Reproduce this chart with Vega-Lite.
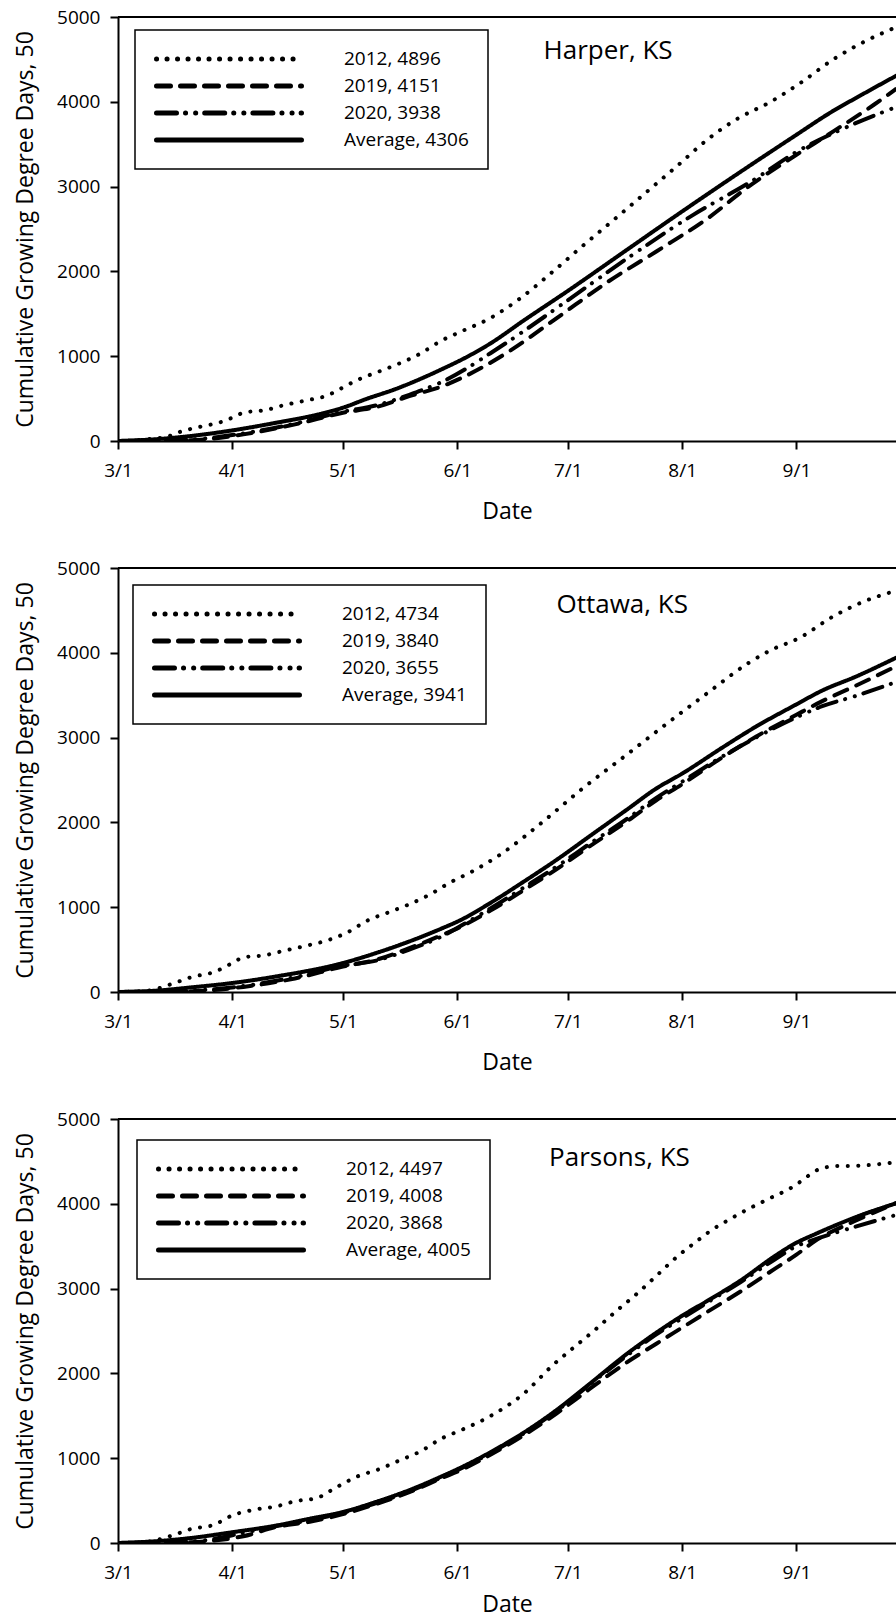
{
  "$schema": "https://vega.github.io/schema/vega-lite/v6.json",
  "background": "white",
  "padding": {"left": 14, "top": 8, "right": 0, "bottom": 0},
  "config": {
    "font": "Open Sans",
    "view": {"stroke": null},
    "axis": {
      "labelFont": "Open Sans", "titleFont": "Open Sans",
      "labelColor": "black", "titleColor": "black",
      "domainColor": "black", "tickColor": "black",
      "domainWidth": 2, "tickWidth": 2, "tickSize": 8,
      "labelFontSize": 19, "titleFontSize": 23, "titleFontWeight": "normal",
      "grid": false
    }
  },
  "datasets": {
    "harper": [
      {"series": "2012, 4896", "date": "2021/03/01", "gdd": 0},
      {"series": "2012, 4896", "date": "2021/03/09", "gdd": 20},
      {"series": "2012, 4896", "date": "2021/03/15", "gdd": 60},
      {"series": "2012, 4896", "date": "2021/03/18", "gdd": 110},
      {"series": "2012, 4896", "date": "2021/03/23", "gdd": 165},
      {"series": "2012, 4896", "date": "2021/03/29", "gdd": 225},
      {"series": "2012, 4896", "date": "2021/04/01", "gdd": 275},
      {"series": "2012, 4896", "date": "2021/04/04", "gdd": 333},
      {"series": "2012, 4896", "date": "2021/04/10", "gdd": 365},
      {"series": "2012, 4896", "date": "2021/04/15", "gdd": 423},
      {"series": "2012, 4896", "date": "2021/04/21", "gdd": 478},
      {"series": "2012, 4896", "date": "2021/04/27", "gdd": 541},
      {"series": "2012, 4896", "date": "2021/04/30", "gdd": 608},
      {"series": "2012, 4896", "date": "2021/05/05", "gdd": 721},
      {"series": "2012, 4896", "date": "2021/05/11", "gdd": 823},
      {"series": "2012, 4896", "date": "2021/05/16", "gdd": 909},
      {"series": "2012, 4896", "date": "2021/05/22", "gdd": 1031},
      {"series": "2012, 4896", "date": "2021/05/28", "gdd": 1190},
      {"series": "2012, 4896", "date": "2021/06/02", "gdd": 1290},
      {"series": "2012, 4896", "date": "2021/06/10", "gdd": 1450},
      {"series": "2012, 4896", "date": "2021/06/18", "gdd": 1680},
      {"series": "2012, 4896", "date": "2021/06/27", "gdd": 2000},
      {"series": "2012, 4896", "date": "2021/07/05", "gdd": 2300},
      {"series": "2012, 4896", "date": "2021/07/14", "gdd": 2628},
      {"series": "2012, 4896", "date": "2021/07/22", "gdd": 2923},
      {"series": "2012, 4896", "date": "2021/07/31", "gdd": 3257},
      {"series": "2012, 4896", "date": "2021/08/08", "gdd": 3560},
      {"series": "2012, 4896", "date": "2021/08/16", "gdd": 3800},
      {"series": "2012, 4896", "date": "2021/08/25", "gdd": 4000},
      {"series": "2012, 4896", "date": "2021/09/02", "gdd": 4220},
      {"series": "2012, 4896", "date": "2021/09/11", "gdd": 4500},
      {"series": "2012, 4896", "date": "2021/09/19", "gdd": 4700},
      {"series": "2012, 4896", "date": "2021/09/28", "gdd": 4880},
      {"series": "2019, 4151", "date": "2021/03/01", "gdd": 0},
      {"series": "2019, 4151", "date": "2021/03/16", "gdd": 5},
      {"series": "2019, 4151", "date": "2021/03/26", "gdd": 25},
      {"series": "2019, 4151", "date": "2021/04/04", "gdd": 78},
      {"series": "2019, 4151", "date": "2021/04/18", "gdd": 196},
      {"series": "2019, 4151", "date": "2021/05/01", "gdd": 333},
      {"series": "2019, 4151", "date": "2021/05/10", "gdd": 400},
      {"series": "2019, 4151", "date": "2021/05/19", "gdd": 529},
      {"series": "2019, 4151", "date": "2021/05/28", "gdd": 647},
      {"series": "2019, 4151", "date": "2021/06/02", "gdd": 740},
      {"series": "2019, 4151", "date": "2021/06/15", "gdd": 1055},
      {"series": "2019, 4151", "date": "2021/06/28", "gdd": 1450},
      {"series": "2019, 4151", "date": "2021/07/12", "gdd": 1881},
      {"series": "2019, 4151", "date": "2021/07/25", "gdd": 2235},
      {"series": "2019, 4151", "date": "2021/08/08", "gdd": 2628},
      {"series": "2019, 4151", "date": "2021/08/19", "gdd": 3000},
      {"series": "2019, 4151", "date": "2021/09/01", "gdd": 3375},
      {"series": "2019, 4151", "date": "2021/09/11", "gdd": 3651},
      {"series": "2019, 4151", "date": "2021/09/22", "gdd": 3965},
      {"series": "2019, 4151", "date": "2021/09/28", "gdd": 4151},
      {"series": "2020, 3938", "date": "2021/03/01", "gdd": 0},
      {"series": "2020, 3938", "date": "2021/03/16", "gdd": 10},
      {"series": "2020, 3938", "date": "2021/03/26", "gdd": 35},
      {"series": "2020, 3938", "date": "2021/04/04", "gdd": 90},
      {"series": "2020, 3938", "date": "2021/04/18", "gdd": 205},
      {"series": "2020, 3938", "date": "2021/05/01", "gdd": 345},
      {"series": "2020, 3938", "date": "2021/05/10", "gdd": 420},
      {"series": "2020, 3938", "date": "2021/05/19", "gdd": 545},
      {"series": "2020, 3938", "date": "2021/05/28", "gdd": 700},
      {"series": "2020, 3938", "date": "2021/06/13", "gdd": 1120},
      {"series": "2020, 3938", "date": "2021/07/01", "gdd": 1660},
      {"series": "2020, 3938", "date": "2021/07/17", "gdd": 2150},
      {"series": "2020, 3938", "date": "2021/08/04", "gdd": 2667},
      {"series": "2020, 3938", "date": "2021/08/19", "gdd": 3041},
      {"series": "2020, 3938", "date": "2021/09/02", "gdd": 3434},
      {"series": "2020, 3938", "date": "2021/09/13", "gdd": 3670},
      {"series": "2020, 3938", "date": "2021/09/28", "gdd": 3938},
      {"series": "Average, 4306", "date": "2021/03/01", "gdd": 0},
      {"series": "Average, 4306", "date": "2021/03/11", "gdd": 20},
      {"series": "Average, 4306", "date": "2021/03/21", "gdd": 60},
      {"series": "Average, 4306", "date": "2021/04/01", "gdd": 125},
      {"series": "Average, 4306", "date": "2021/04/13", "gdd": 216},
      {"series": "Average, 4306", "date": "2021/04/25", "gdd": 320},
      {"series": "Average, 4306", "date": "2021/05/01", "gdd": 392},
      {"series": "Average, 4306", "date": "2021/05/07", "gdd": 490},
      {"series": "Average, 4306", "date": "2021/05/15", "gdd": 608},
      {"series": "Average, 4306", "date": "2021/05/24", "gdd": 770},
      {"series": "Average, 4306", "date": "2021/05/28", "gdd": 850},
      {"series": "Average, 4306", "date": "2021/06/04", "gdd": 1000},
      {"series": "Average, 4306", "date": "2021/06/10", "gdd": 1150},
      {"series": "Average, 4306", "date": "2021/06/19", "gdd": 1420},
      {"series": "Average, 4306", "date": "2021/07/01", "gdd": 1770},
      {"series": "Average, 4306", "date": "2021/07/17", "gdd": 2254},
      {"series": "Average, 4306", "date": "2021/08/01", "gdd": 2707},
      {"series": "Average, 4306", "date": "2021/08/17", "gdd": 3179},
      {"series": "Average, 4306", "date": "2021/09/01", "gdd": 3611},
      {"series": "Average, 4306", "date": "2021/09/10", "gdd": 3867},
      {"series": "Average, 4306", "date": "2021/09/19", "gdd": 4090},
      {"series": "Average, 4306", "date": "2021/09/28", "gdd": 4306}
    ],
    "ottawa": [
      {"series": "2012, 4734", "date": "2021/03/01", "gdd": 0},
      {"series": "2012, 4734", "date": "2021/03/09", "gdd": 15},
      {"series": "2012, 4734", "date": "2021/03/15", "gdd": 86},
      {"series": "2012, 4734", "date": "2021/03/21", "gdd": 176},
      {"series": "2012, 4734", "date": "2021/03/27", "gdd": 235},
      {"series": "2012, 4734", "date": "2021/04/01", "gdd": 341},
      {"series": "2012, 4734", "date": "2021/04/04", "gdd": 408},
      {"series": "2012, 4734", "date": "2021/04/10", "gdd": 435},
      {"series": "2012, 4734", "date": "2021/04/15", "gdd": 486},
      {"series": "2012, 4734", "date": "2021/04/21", "gdd": 545},
      {"series": "2012, 4734", "date": "2021/04/27", "gdd": 612},
      {"series": "2012, 4734", "date": "2021/05/02", "gdd": 698},
      {"series": "2012, 4734", "date": "2021/05/08", "gdd": 850},
      {"series": "2012, 4734", "date": "2021/05/13", "gdd": 933},
      {"series": "2012, 4734", "date": "2021/05/19", "gdd": 1035},
      {"series": "2012, 4734", "date": "2021/05/25", "gdd": 1160},
      {"series": "2012, 4734", "date": "2021/05/30", "gdd": 1290},
      {"series": "2012, 4734", "date": "2021/06/05", "gdd": 1420},
      {"series": "2012, 4734", "date": "2021/06/13", "gdd": 1630},
      {"series": "2012, 4734", "date": "2021/06/24", "gdd": 2000},
      {"series": "2012, 4734", "date": "2021/07/05", "gdd": 2400},
      {"series": "2012, 4734", "date": "2021/07/17", "gdd": 2800},
      {"series": "2012, 4734", "date": "2021/07/28", "gdd": 3170},
      {"series": "2012, 4734", "date": "2021/08/08", "gdd": 3530},
      {"series": "2012, 4734", "date": "2021/08/19", "gdd": 3880},
      {"series": "2012, 4734", "date": "2021/08/25", "gdd": 4030},
      {"series": "2012, 4734", "date": "2021/09/02", "gdd": 4180},
      {"series": "2012, 4734", "date": "2021/09/11", "gdd": 4430},
      {"series": "2012, 4734", "date": "2021/09/19", "gdd": 4600},
      {"series": "2012, 4734", "date": "2021/09/28", "gdd": 4732},
      {"series": "2019, 3840", "date": "2021/03/01", "gdd": 0},
      {"series": "2019, 3840", "date": "2021/03/16", "gdd": 3},
      {"series": "2019, 3840", "date": "2021/03/26", "gdd": 20},
      {"series": "2019, 3840", "date": "2021/04/04", "gdd": 60},
      {"series": "2019, 3840", "date": "2021/04/18", "gdd": 160},
      {"series": "2019, 3840", "date": "2021/05/01", "gdd": 300},
      {"series": "2019, 3840", "date": "2021/05/10", "gdd": 380},
      {"series": "2019, 3840", "date": "2021/05/19", "gdd": 517},
      {"series": "2019, 3840", "date": "2021/05/28", "gdd": 674},
      {"series": "2019, 3840", "date": "2021/06/02", "gdd": 770},
      {"series": "2019, 3840", "date": "2021/06/10", "gdd": 960},
      {"series": "2019, 3840", "date": "2021/06/19", "gdd": 1200},
      {"series": "2019, 3840", "date": "2021/06/28", "gdd": 1450},
      {"series": "2019, 3840", "date": "2021/07/07", "gdd": 1720},
      {"series": "2019, 3840", "date": "2021/07/17", "gdd": 2010},
      {"series": "2019, 3840", "date": "2021/07/25", "gdd": 2260},
      {"series": "2019, 3840", "date": "2021/08/01", "gdd": 2450},
      {"series": "2019, 3840", "date": "2021/08/12", "gdd": 2770},
      {"series": "2019, 3840", "date": "2021/08/21", "gdd": 3010},
      {"series": "2019, 3840", "date": "2021/09/01", "gdd": 3270},
      {"series": "2019, 3840", "date": "2021/09/08", "gdd": 3430},
      {"series": "2019, 3840", "date": "2021/09/17", "gdd": 3610},
      {"series": "2019, 3840", "date": "2021/09/28", "gdd": 3840},
      {"series": "2020, 3655", "date": "2021/03/01", "gdd": 0},
      {"series": "2020, 3655", "date": "2021/03/16", "gdd": 8},
      {"series": "2020, 3655", "date": "2021/03/26", "gdd": 30},
      {"series": "2020, 3655", "date": "2021/04/04", "gdd": 70},
      {"series": "2020, 3655", "date": "2021/04/18", "gdd": 175},
      {"series": "2020, 3655", "date": "2021/05/01", "gdd": 310},
      {"series": "2020, 3655", "date": "2021/05/10", "gdd": 370},
      {"series": "2020, 3655", "date": "2021/05/19", "gdd": 500},
      {"series": "2020, 3655", "date": "2021/05/28", "gdd": 660},
      {"series": "2020, 3655", "date": "2021/06/02", "gdd": 780},
      {"series": "2020, 3655", "date": "2021/06/10", "gdd": 985},
      {"series": "2020, 3655", "date": "2021/06/19", "gdd": 1230},
      {"series": "2020, 3655", "date": "2021/06/28", "gdd": 1480},
      {"series": "2020, 3655", "date": "2021/07/07", "gdd": 1750},
      {"series": "2020, 3655", "date": "2021/07/17", "gdd": 2040},
      {"series": "2020, 3655", "date": "2021/07/25", "gdd": 2290},
      {"series": "2020, 3655", "date": "2021/08/01", "gdd": 2480},
      {"series": "2020, 3655", "date": "2021/08/12", "gdd": 2780},
      {"series": "2020, 3655", "date": "2021/08/21", "gdd": 3000},
      {"series": "2020, 3655", "date": "2021/09/01", "gdd": 3240},
      {"series": "2020, 3655", "date": "2021/09/08", "gdd": 3370},
      {"series": "2020, 3655", "date": "2021/09/17", "gdd": 3490},
      {"series": "2020, 3655", "date": "2021/09/28", "gdd": 3655},
      {"series": "Average, 3941", "date": "2021/03/01", "gdd": 0},
      {"series": "Average, 3941", "date": "2021/03/11", "gdd": 15},
      {"series": "Average, 3941", "date": "2021/03/21", "gdd": 55},
      {"series": "Average, 3941", "date": "2021/04/01", "gdd": 106},
      {"series": "Average, 3941", "date": "2021/04/13", "gdd": 184},
      {"series": "Average, 3941", "date": "2021/05/01", "gdd": 341},
      {"series": "Average, 3941", "date": "2021/05/10", "gdd": 459},
      {"series": "Average, 3941", "date": "2021/05/19", "gdd": 596},
      {"series": "Average, 3941", "date": "2021/05/28", "gdd": 753},
      {"series": "Average, 3941", "date": "2021/06/02", "gdd": 850},
      {"series": "Average, 3941", "date": "2021/06/10", "gdd": 1050},
      {"series": "Average, 3941", "date": "2021/06/19", "gdd": 1300},
      {"series": "Average, 3941", "date": "2021/06/28", "gdd": 1560},
      {"series": "Average, 3941", "date": "2021/07/07", "gdd": 1840},
      {"series": "Average, 3941", "date": "2021/07/17", "gdd": 2150},
      {"series": "Average, 3941", "date": "2021/07/25", "gdd": 2400},
      {"series": "Average, 3941", "date": "2021/08/01", "gdd": 2575},
      {"series": "Average, 3941", "date": "2021/08/12", "gdd": 2885},
      {"series": "Average, 3941", "date": "2021/08/21", "gdd": 3129},
      {"series": "Average, 3941", "date": "2021/09/01", "gdd": 3392},
      {"series": "Average, 3941", "date": "2021/09/08", "gdd": 3555},
      {"series": "Average, 3941", "date": "2021/09/17", "gdd": 3717},
      {"series": "Average, 3941", "date": "2021/09/28", "gdd": 3941}
    ],
    "parsons": [
      {"series": "2012, 4497", "date": "2021/03/01", "gdd": 0},
      {"series": "2012, 4497", "date": "2021/03/09", "gdd": 15},
      {"series": "2012, 4497", "date": "2021/03/15", "gdd": 79},
      {"series": "2012, 4497", "date": "2021/03/21", "gdd": 167},
      {"series": "2012, 4497", "date": "2021/03/27", "gdd": 214},
      {"series": "2012, 4497", "date": "2021/04/01", "gdd": 326},
      {"series": "2012, 4497", "date": "2021/04/07", "gdd": 393},
      {"series": "2012, 4497", "date": "2021/04/13", "gdd": 433},
      {"series": "2012, 4497", "date": "2021/04/18", "gdd": 492},
      {"series": "2012, 4497", "date": "2021/04/24", "gdd": 532},
      {"series": "2012, 4497", "date": "2021/04/29", "gdd": 651},
      {"series": "2012, 4497", "date": "2021/05/05", "gdd": 786},
      {"series": "2012, 4497", "date": "2021/05/11", "gdd": 873},
      {"series": "2012, 4497", "date": "2021/05/16", "gdd": 968},
      {"series": "2012, 4497", "date": "2021/05/22", "gdd": 1080},
      {"series": "2012, 4497", "date": "2021/05/28", "gdd": 1238},
      {"series": "2012, 4497", "date": "2021/06/02", "gdd": 1330},
      {"series": "2012, 4497", "date": "2021/06/10", "gdd": 1497},
      {"series": "2012, 4497", "date": "2021/06/19", "gdd": 1760},
      {"series": "2012, 4497", "date": "2021/06/27", "gdd": 2100},
      {"series": "2012, 4497", "date": "2021/07/03", "gdd": 2320},
      {"series": "2012, 4497", "date": "2021/07/08", "gdd": 2500},
      {"series": "2012, 4497", "date": "2021/07/14", "gdd": 2730},
      {"series": "2012, 4497", "date": "2021/07/20", "gdd": 2950},
      {"series": "2012, 4497", "date": "2021/07/25", "gdd": 3150},
      {"series": "2012, 4497", "date": "2021/07/31", "gdd": 3390},
      {"series": "2012, 4497", "date": "2021/08/05", "gdd": 3560},
      {"series": "2012, 4497", "date": "2021/08/08", "gdd": 3660},
      {"series": "2012, 4497", "date": "2021/08/14", "gdd": 3820},
      {"series": "2012, 4497", "date": "2021/08/19", "gdd": 3940},
      {"series": "2012, 4497", "date": "2021/08/25", "gdd": 4070},
      {"series": "2012, 4497", "date": "2021/08/31", "gdd": 4200},
      {"series": "2012, 4497", "date": "2021/09/03", "gdd": 4290},
      {"series": "2012, 4497", "date": "2021/09/06", "gdd": 4385},
      {"series": "2012, 4497", "date": "2021/09/09", "gdd": 4430},
      {"series": "2012, 4497", "date": "2021/09/12", "gdd": 4445},
      {"series": "2012, 4497", "date": "2021/09/17", "gdd": 4448},
      {"series": "2012, 4497", "date": "2021/09/22", "gdd": 4462},
      {"series": "2012, 4497", "date": "2021/09/28", "gdd": 4490},
      {"series": "2019, 4008", "date": "2021/03/01", "gdd": 0},
      {"series": "2019, 4008", "date": "2021/03/16", "gdd": 5},
      {"series": "2019, 4008", "date": "2021/03/26", "gdd": 25},
      {"series": "2019, 4008", "date": "2021/04/04", "gdd": 80},
      {"series": "2019, 4008", "date": "2021/04/13", "gdd": 190},
      {"series": "2019, 4008", "date": "2021/04/22", "gdd": 250},
      {"series": "2019, 4008", "date": "2021/05/01", "gdd": 340},
      {"series": "2019, 4008", "date": "2021/05/10", "gdd": 460},
      {"series": "2019, 4008", "date": "2021/05/19", "gdd": 600},
      {"series": "2019, 4008", "date": "2021/05/28", "gdd": 770},
      {"series": "2019, 4008", "date": "2021/06/02", "gdd": 860},
      {"series": "2019, 4008", "date": "2021/06/10", "gdd": 1040},
      {"series": "2019, 4008", "date": "2021/06/19", "gdd": 1270},
      {"series": "2019, 4008", "date": "2021/06/28", "gdd": 1530},
      {"series": "2019, 4008", "date": "2021/07/07", "gdd": 1820},
      {"series": "2019, 4008", "date": "2021/07/17", "gdd": 2130},
      {"series": "2019, 4008", "date": "2021/07/25", "gdd": 2350},
      {"series": "2019, 4008", "date": "2021/08/01", "gdd": 2540},
      {"series": "2019, 4008", "date": "2021/08/08", "gdd": 2730},
      {"series": "2019, 4008", "date": "2021/08/17", "gdd": 2970},
      {"series": "2019, 4008", "date": "2021/08/26", "gdd": 3230},
      {"series": "2019, 4008", "date": "2021/09/01", "gdd": 3400},
      {"series": "2019, 4008", "date": "2021/09/06", "gdd": 3560},
      {"series": "2019, 4008", "date": "2021/09/17", "gdd": 3800},
      {"series": "2019, 4008", "date": "2021/09/28", "gdd": 4008},
      {"series": "2020, 3868", "date": "2021/03/01", "gdd": 0},
      {"series": "2020, 3868", "date": "2021/03/16", "gdd": 10},
      {"series": "2020, 3868", "date": "2021/03/26", "gdd": 40},
      {"series": "2020, 3868", "date": "2021/04/04", "gdd": 120},
      {"series": "2020, 3868", "date": "2021/04/13", "gdd": 200},
      {"series": "2020, 3868", "date": "2021/04/22", "gdd": 270},
      {"series": "2020, 3868", "date": "2021/05/01", "gdd": 355},
      {"series": "2020, 3868", "date": "2021/05/10", "gdd": 470},
      {"series": "2020, 3868", "date": "2021/05/19", "gdd": 610},
      {"series": "2020, 3868", "date": "2021/05/28", "gdd": 780},
      {"series": "2020, 3868", "date": "2021/06/02", "gdd": 880},
      {"series": "2020, 3868", "date": "2021/06/10", "gdd": 1060},
      {"series": "2020, 3868", "date": "2021/06/19", "gdd": 1290},
      {"series": "2020, 3868", "date": "2021/06/28", "gdd": 1560},
      {"series": "2020, 3868", "date": "2021/07/07", "gdd": 1870},
      {"series": "2020, 3868", "date": "2021/07/17", "gdd": 2210},
      {"series": "2020, 3868", "date": "2021/07/25", "gdd": 2460},
      {"series": "2020, 3868", "date": "2021/08/01", "gdd": 2650},
      {"series": "2020, 3868", "date": "2021/08/08", "gdd": 2840},
      {"series": "2020, 3868", "date": "2021/08/17", "gdd": 3080},
      {"series": "2020, 3868", "date": "2021/08/26", "gdd": 3340},
      {"series": "2020, 3868", "date": "2021/09/01", "gdd": 3500},
      {"series": "2020, 3868", "date": "2021/09/06", "gdd": 3580},
      {"series": "2020, 3868", "date": "2021/09/17", "gdd": 3730},
      {"series": "2020, 3868", "date": "2021/09/28", "gdd": 3868},
      {"series": "Average, 4005", "date": "2021/03/01", "gdd": 0},
      {"series": "Average, 4005", "date": "2021/03/11", "gdd": 20},
      {"series": "Average, 4005", "date": "2021/03/21", "gdd": 60},
      {"series": "Average, 4005", "date": "2021/04/01", "gdd": 127},
      {"series": "Average, 4005", "date": "2021/04/13", "gdd": 206},
      {"series": "Average, 4005", "date": "2021/04/22", "gdd": 286},
      {"series": "Average, 4005", "date": "2021/05/01", "gdd": 365},
      {"series": "Average, 4005", "date": "2021/05/10", "gdd": 484},
      {"series": "Average, 4005", "date": "2021/05/19", "gdd": 623},
      {"series": "Average, 4005", "date": "2021/05/28", "gdd": 790},
      {"series": "Average, 4005", "date": "2021/06/02", "gdd": 890},
      {"series": "Average, 4005", "date": "2021/06/10", "gdd": 1070},
      {"series": "Average, 4005", "date": "2021/06/19", "gdd": 1300},
      {"series": "Average, 4005", "date": "2021/06/28", "gdd": 1570},
      {"series": "Average, 4005", "date": "2021/07/07", "gdd": 1880},
      {"series": "Average, 4005", "date": "2021/07/17", "gdd": 2230},
      {"series": "Average, 4005", "date": "2021/07/25", "gdd": 2480},
      {"series": "Average, 4005", "date": "2021/08/01", "gdd": 2680},
      {"series": "Average, 4005", "date": "2021/08/08", "gdd": 2859},
      {"series": "Average, 4005", "date": "2021/08/17", "gdd": 3100},
      {"series": "Average, 4005", "date": "2021/08/26", "gdd": 3380},
      {"series": "Average, 4005", "date": "2021/09/01", "gdd": 3541},
      {"series": "Average, 4005", "date": "2021/09/06", "gdd": 3641},
      {"series": "Average, 4005", "date": "2021/09/17", "gdd": 3841},
      {"series": "Average, 4005", "date": "2021/09/28", "gdd": 4005}
    ]
  },
  "resolve": {"scale": {"strokeDash": "independent"}},
  "spacing": 36,
  "vconcat": [
    {
      "width": 778, "height": 424,
      "layer": [
        {"data": {"values": [{}]}, "mark": {"type": "rule", "color": "black", "strokeWidth": 2}, "encoding": {"y": {"datum": 5000, "type": "quantitative"}}},
        {"data": {"values": [{}]}, "mark": {"type": "text", "align": "left", "baseline": "middle", "fontSize": 26, "font": "Open Sans", "color": "black"},
         "encoding": {"x": {"datum": {"year": 2021, "month": 6, "date": 24, "hours": 10}, "type": "temporal"}, "y": {"datum": 4600, "type": "quantitative"}, "text": {"value": "Harper, KS"}}},
        {"data": {"name": "harper"},
         "mark": {"type": "line", "interpolate": "monotone", "strokeWidth": 4, "color": "black", "strokeCap": "round", "strokeJoin": "round", "clip": true},
         "encoding": {
           "x": {"field": "date", "type": "temporal", "scale": {"domain": [{"year": 2021, "month": 3, "date": 1}, {"year": 2021, "month": 9, "date": 28}]},
                 "axis": {"title": "Date", "format": "%-m/%-d", "labelFlush": false, "labelPadding": 12, "titlePadding": 20,
                          "values": [{"year": 2021, "month": 3, "date": 1}, {"year": 2021, "month": 4, "date": 1}, {"year": 2021, "month": 5, "date": 1}, {"year": 2021, "month": 6, "date": 1}, {"year": 2021, "month": 7, "date": 1}, {"year": 2021, "month": 8, "date": 1}, {"year": 2021, "month": 9, "date": 1}]}},
           "y": {"field": "gdd", "type": "quantitative", "scale": {"domain": [0, 5000], "nice": false},
                 "axis": {"title": "Cumulative Growing Degree Days, 50", "values": [0, 1000, 2000, 3000, 4000, 5000], "format": "d", "labelPadding": 10, "titlePadding": 19}},
           "strokeDash": {"field": "series", "type": "nominal",
                          "scale": {"range": [[0.1, 10.4], [14, 10], [20, 9, 0.1, 10, 0.1, 9], [1, 0]]},
                          "legend": {"title": null, "orient": "none", "legendX": 17, "legendY": 13, "symbolType": "stroke", "symbolSize": 21025, "symbolStrokeWidth": 5, "symbolStrokeColor": "black", "labelFontSize": 19, "labelFont": "Open Sans", "labelColor": "black", "labelOffset": 40, "rowPadding": 7, "padding": 19, "strokeColor": "black", "fillColor": "white", "clipHeight": 20, "labelLimit": 400,
                                     "encode": {"symbols": {"update": {"strokeCap": {"value": "round"}}}, "legend": {"update": {"strokeWidth": {"value": 1.5}}}}}}
         }}
      ]
    },
    {
      "width": 778, "height": 424,
      "layer": [
        {"data": {"values": [{}]}, "mark": {"type": "rule", "color": "black", "strokeWidth": 2}, "encoding": {"y": {"datum": 5000, "type": "quantitative"}}},
        {"data": {"values": [{}]}, "mark": {"type": "text", "align": "left", "baseline": "middle", "fontSize": 26, "font": "Open Sans", "color": "black"},
         "encoding": {"x": {"datum": {"year": 2021, "month": 6, "date": 27, "hours": 22}, "type": "temporal"}, "y": {"datum": 4560, "type": "quantitative"}, "text": {"value": "Ottawa, KS"}}},
        {"data": {"name": "ottawa"},
         "mark": {"type": "line", "interpolate": "monotone", "strokeWidth": 4, "color": "black", "strokeCap": "round", "strokeJoin": "round", "clip": true},
         "encoding": {
           "x": {"field": "date", "type": "temporal", "scale": {"domain": [{"year": 2021, "month": 3, "date": 1}, {"year": 2021, "month": 9, "date": 28}]},
                 "axis": {"title": "Date", "format": "%-m/%-d", "labelFlush": false, "labelPadding": 12, "titlePadding": 20,
                          "values": [{"year": 2021, "month": 3, "date": 1}, {"year": 2021, "month": 4, "date": 1}, {"year": 2021, "month": 5, "date": 1}, {"year": 2021, "month": 6, "date": 1}, {"year": 2021, "month": 7, "date": 1}, {"year": 2021, "month": 8, "date": 1}, {"year": 2021, "month": 9, "date": 1}]}},
           "y": {"field": "gdd", "type": "quantitative", "scale": {"domain": [0, 5000], "nice": false},
                 "axis": {"title": "Cumulative Growing Degree Days, 50", "values": [0, 1000, 2000, 3000, 4000, 5000], "format": "d", "labelPadding": 10, "titlePadding": 19}},
           "strokeDash": {"field": "series", "type": "nominal",
                          "scale": {"range": [[0.1, 10.4], [14, 10], [20, 9, 0.1, 10, 0.1, 9], [1, 0]]},
                          "legend": {"title": null, "orient": "none", "legendX": 15, "legendY": 17, "symbolType": "stroke", "symbolSize": 21025, "symbolStrokeWidth": 5, "symbolStrokeColor": "black", "labelFontSize": 19, "labelFont": "Open Sans", "labelColor": "black", "labelOffset": 40, "rowPadding": 7, "padding": 19, "strokeColor": "black", "fillColor": "white", "clipHeight": 20, "labelLimit": 400,
                                     "encode": {"symbols": {"update": {"strokeCap": {"value": "round"}}}, "legend": {"update": {"strokeWidth": {"value": 1.5}}}}}}
         }}
      ]
    },
    {
      "width": 778, "height": 424,
      "layer": [
        {"data": {"values": [{}]}, "mark": {"type": "rule", "color": "black", "strokeWidth": 2}, "encoding": {"y": {"datum": 5000, "type": "quantitative"}}},
        {"data": {"values": [{}]}, "mark": {"type": "text", "align": "left", "baseline": "middle", "fontSize": 26, "font": "Open Sans", "color": "black"},
         "encoding": {"x": {"datum": {"year": 2021, "month": 6, "date": 25, "hours": 22}, "type": "temporal"}, "y": {"datum": 4545, "type": "quantitative"}, "text": {"value": "Parsons, KS"}}},
        {"data": {"name": "parsons"},
         "mark": {"type": "line", "interpolate": "monotone", "strokeWidth": 4, "color": "black", "strokeCap": "round", "strokeJoin": "round", "clip": true},
         "encoding": {
           "x": {"field": "date", "type": "temporal", "scale": {"domain": [{"year": 2021, "month": 3, "date": 1}, {"year": 2021, "month": 9, "date": 28}]},
                 "axis": {"title": "Date", "format": "%-m/%-d", "labelFlush": false, "labelPadding": 12, "titlePadding": 11,
                          "values": [{"year": 2021, "month": 3, "date": 1}, {"year": 2021, "month": 4, "date": 1}, {"year": 2021, "month": 5, "date": 1}, {"year": 2021, "month": 6, "date": 1}, {"year": 2021, "month": 7, "date": 1}, {"year": 2021, "month": 8, "date": 1}, {"year": 2021, "month": 9, "date": 1}]}},
           "y": {"field": "gdd", "type": "quantitative", "scale": {"domain": [0, 5000], "nice": false},
                 "axis": {"title": "Cumulative Growing Degree Days, 50", "values": [0, 1000, 2000, 3000, 4000, 5000], "format": "d", "labelPadding": 10, "titlePadding": 19}},
           "strokeDash": {"field": "series", "type": "nominal",
                          "scale": {"range": [[0.1, 10.4], [14, 10], [20, 9, 0.1, 10, 0.1, 9], [1, 0]]},
                          "legend": {"title": null, "orient": "none", "legendX": 19, "legendY": 21, "symbolType": "stroke", "symbolSize": 21025, "symbolStrokeWidth": 5, "symbolStrokeColor": "black", "labelFontSize": 19, "labelFont": "Open Sans", "labelColor": "black", "labelOffset": 40, "rowPadding": 7, "padding": 19, "strokeColor": "black", "fillColor": "white", "clipHeight": 20, "labelLimit": 400,
                                     "encode": {"symbols": {"update": {"strokeCap": {"value": "round"}}}, "legend": {"update": {"strokeWidth": {"value": 1.5}}}}}}
         }}
      ]
    }
  ]
}
